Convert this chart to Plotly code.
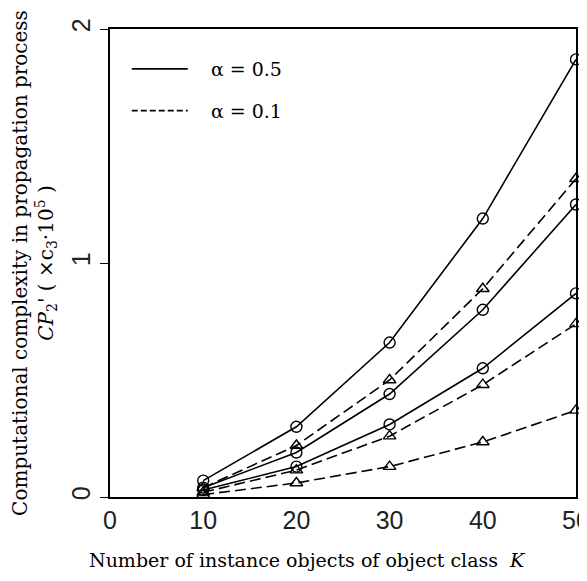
import plotly.graph_objects as go

K = [10, 20, 30, 40, 50]

# alpha = 0.5 (solid, circles)
solid_a = [0.07, 0.30, 0.66, 1.19, 1.87]
solid_b = [0.04, 0.19, 0.44, 0.80, 1.25]
solid_c = [0.03, 0.13, 0.31, 0.55, 0.87]

# alpha = 0.1 (dashed, triangles)
dash_a = [0.04, 0.22, 0.50, 0.89, 1.36]
dash_b = [0.02, 0.115, 0.26, 0.48, 0.74]
dash_c = [0.01, 0.06, 0.13, 0.235, 0.37]

x_ticks = [0, 10, 20, 30, 40, 50]
y_ticks = [0, 1, 2]

x_title = "Number of instance objects of object class  <i>K</i>"
y_title = ("Computational complexity in propagation process<br>"
           "<i>CP</i><sub>2</sub>' ( ×c<sub>3</sub>·10<sup>5</sup> )" + "\u00a0" * 8)

fig = go.Figure()

for ys in [solid_a, solid_b, solid_c]:
    fig.add_trace(go.Scatter(
        x=K, y=ys, mode="lines+markers", showlegend=False, cliponaxis=False,
        line=dict(color="black", width=1.6),
        marker=dict(symbol="circle-open", size=11, color="black", line=dict(width=1.4)),
    ))
for ys in [dash_a, dash_b, dash_c]:
    fig.add_trace(go.Scatter(
        x=K, y=ys, mode="lines+markers", showlegend=False, cliponaxis=False,
        line=dict(color="black", width=1.6, dash="11px,5px"),
        marker=dict(symbol="triangle-up-open", size=11, color="black", line=dict(width=1.4)),
    ))

# legend entries (lines only)
fig.add_trace(go.Scatter(x=[None], y=[None], mode="lines", name="\u00a0\u00a0\u00a0α = 0.5",
                         legendgroup="a", line=dict(color="black", width=1.8)))
fig.add_trace(go.Scatter(x=[None], y=[None], mode="lines", name="\u00a0\u00a0\u00a0α = 0.1",
                         legendgroup="b", line=dict(color="black", width=1.8, dash="6px,3px")))

serif = "DejaVu Serif, Liberation Serif, serif"
sans = "Liberation Sans Narrow, Liberation Sans, Arial, sans-serif"

# page body has an 8px default margin, so the figure is shifted by (8, 8)
fig.update_layout(
    width=579, height=573,
    margin=dict(l=102, r=11, t=21, b=84),
    paper_bgcolor="white", plot_bgcolor="white",
    showlegend=True,
    legend=dict(x=0.036, y=0.955, xanchor="left", yanchor="top",
                bgcolor="rgba(0,0,0,0)", font=dict(family=serif, size=19, color="black"),
                itemwidth=56, tracegroupgap=14),
    xaxis=dict(
        range=[0, 50], tickvals=x_ticks, ticktext=[str(v) for v in x_ticks],
        showline=True, linecolor="black", linewidth=2, mirror=True,
        showgrid=False, zeroline=False, ticks="", automargin=False,
        ticklabeloverflow="allow",
        tickfont=dict(family=sans, size=25, color="#222"),
    ),
    yaxis=dict(
        range=[0, 2], tickvals=y_ticks, ticktext=[str(v) for v in y_ticks],
        showline=True, linecolor="black", linewidth=2, mirror=True,
        showgrid=False, zeroline=False, ticks="outside", ticklen=8, tickcolor="black",
        tickangle=-90, automargin=False, ticklabeloverflow="allow",
        tickfont=dict(family=sans, size=25, color="#222"),
        title=dict(text=y_title, font=dict(family=serif, size=20, color="black"), standoff=12),
    ),
    annotations=[dict(
        text=x_title, xref="paper", yref="paper", x=0.423, y=-0.135,
        xanchor="center", yanchor="middle", showarrow=False,
        font=dict(family=serif, size=19, color="black"),
    )],
)

fig.write_html("out.html")
